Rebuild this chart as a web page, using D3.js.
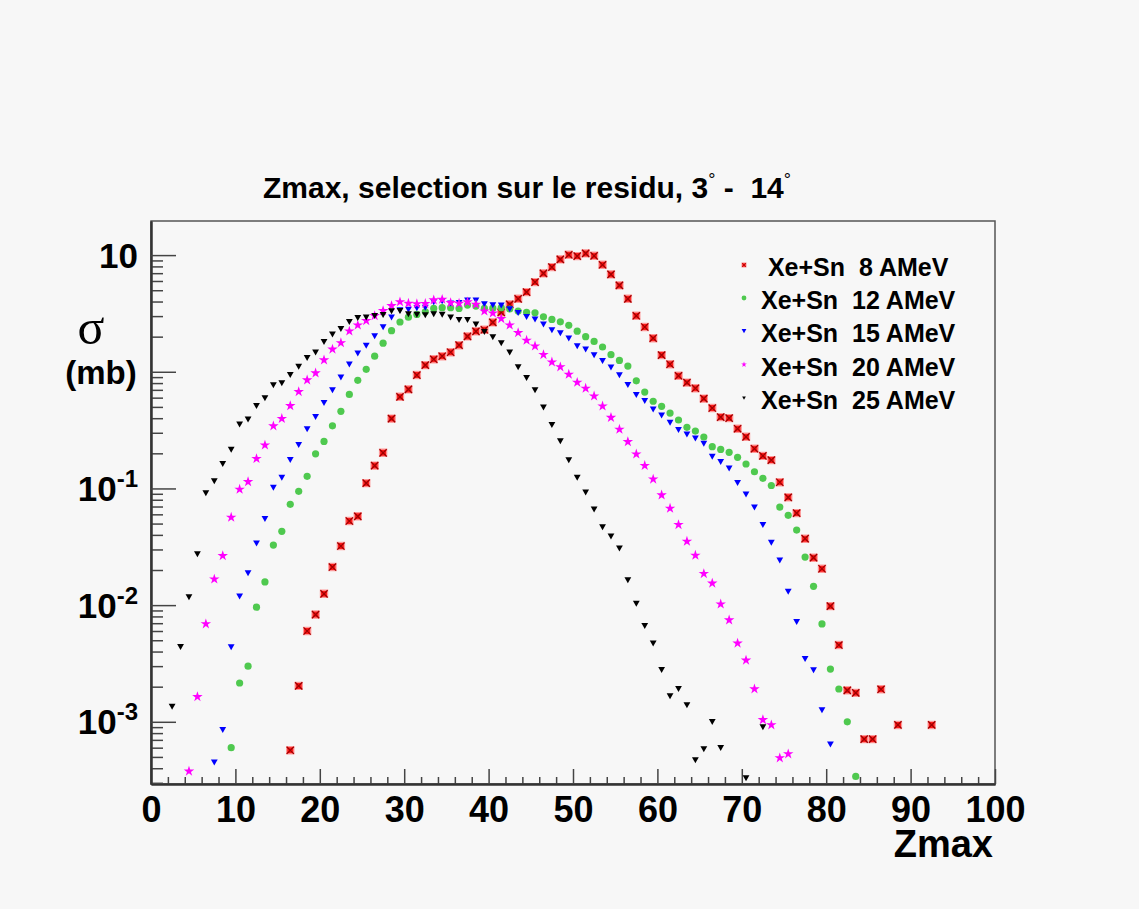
<!DOCTYPE html>
<html>
<head>
<meta charset="utf-8">
<script src="https://cdn.jsdelivr.net/npm/d3@7"></script>
<style>
  body { margin: 0; background: #f7f7f7; }
  text { font-family: "Liberation Sans", Arial, sans-serif; font-weight: bold; white-space: pre; }
</style>
</head>
<body>
<div class="chart"></div>
<script>
// bin (Zmax) , sigma (mb)
const xe8 = [[16,5.7e-4],[17,2.03e-3],[18,6.0e-3],[19,8.3e-3],[20,0.0125],[21,0.0212],[22,0.0321],[23,0.0526],[24,0.0577],[25,0.111],[26,0.157],[27,0.202],[28,0.397],[29,0.61],[30,0.706],[31,0.937],[32,1.14],[33,1.28],[34,1.36],[35,1.47],[36,1.69],[37,2.01],[38,2.22],[39,2.29],[40,2.65],[41,3.23],[42,3.78],[43,4.22],[44,4.82],[45,5.87],[46,6.97],[47,7.89],[48,9.19],[49,10.06],[50,9.8],[51,10.34],[52,9.86],[53,8.26],[54,6.83],[55,5.5],[56,4.22],[57,3.02],[58,2.42],[59,1.94],[60,1.39],[61,1.16],[62,0.924],[63,0.808],[64,0.722],[65,0.589],[66,0.489],[67,0.409],[68,0.401],[69,0.325],[70,0.277],[71,0.219],[72,0.19],[73,0.175],[74,0.113],[75,0.0839],[76,0.0615],[77,0.0371],[78,0.0255],[79,0.0205],[80,9.8e-3],[81,4.55e-3],[82,1.86e-3],[83,1.77e-3],[84,7.1e-4],[85,7.1e-4],[86,1.9e-3],[88,9.4e-4],[92,9.4e-4]];

const xe12 = [[9,6.0e-4],[10,2.15e-3],[11,3.0e-3],[12,9.6e-3],[13,0.0158],[14,0.0327],[15,0.0429],[16,0.0731],[17,0.0944],[18,0.127],[19,0.198],[20,0.253],[21,0.344],[22,0.458],[23,0.64],[24,0.844],[25,1.05],[26,1.36],[27,1.76],[28,2.25],[29,2.67],[30,2.94],[31,3.1],[32,3.27],[33,3.49],[34,3.54],[35,3.54],[36,3.49],[37,3.73],[38,3.66],[39,3.49],[40,3.51],[41,3.54],[42,3.45],[43,3.31],[44,3.23],[45,3.2],[46,2.96],[47,2.81],[48,2.68],[49,2.5],[50,2.23],[51,2.0],[52,1.82],[53,1.63],[54,1.4],[55,1.25],[56,1.12],[57,0.837],[58,0.67],[59,0.559],[60,0.506],[61,0.443],[62,0.386],[63,0.334],[64,0.31],[65,0.276],[66,0.228],[67,0.216],[68,0.204],[69,0.185],[70,0.162],[71,0.139],[72,0.122],[73,0.106],[74,0.0693],[75,0.0588],[76,0.044],[77,0.0258],[78,0.0145],[79,6.9e-3],[80,2.83e-3],[81,1.91e-3],[82,1.0e-3],[83,3.4e-4]];

const xe15 = [[7,4.5e-4],[8,8.55e-4],[9,4.37e-3],[10,0.0119],[11,0.0188],[12,0.0339],[13,0.055],[14,0.102],[15,0.124],[16,0.176],[17,0.237],[18,0.323],[19,0.411],[20,0.541],[21,0.697],[22,0.895],[23,1.16],[24,1.44],[25,1.68],[26,2.02],[27,2.42],[28,2.93],[29,3.38],[30,3.41],[31,3.51],[32,3.56],[33,3.96],[34,4.03],[35,3.86],[36,3.9],[37,4.09],[38,4.09],[39,3.8],[40,3.73],[41,3.71],[42,3.45],[43,3.2],[44,2.96],[45,2.81],[46,2.55],[47,2.28],[48,2.15],[49,1.94],[50,1.66],[51,1.56],[52,1.39],[53,1.24],[54,1.09],[55,0.937],[56,0.774],[57,0.635],[58,0.563],[59,0.477],[60,0.423],[61,0.368],[62,0.318],[63,0.291],[64,0.269],[65,0.242],[66,0.188],[67,0.169],[68,0.149],[69,0.112],[70,0.089],[71,0.0689],[72,0.0489],[73,0.0343],[74,0.0242],[75,0.0131],[76,7.2e-3],[77,3.47e-3],[78,2.78e-3],[79,1.26e-3],[80,6.4e-4]];

const xe20 = [[4,3.77e-4],[5,1.64e-3],[6,6.9e-3],[7,0.0167],[8,0.0265],[9,0.0565],[10,0.0982],[11,0.114],[12,0.18],[13,0.235],[14,0.343],[15,0.397],[16,0.511],[17,0.674],[18,0.849],[19,0.975],[20,1.26],[21,1.56],[22,1.77],[23,2.23],[24,2.51],[25,2.74],[26,3.02],[27,3.33],[28,3.68],[29,3.97],[30,3.86],[31,3.82],[32,3.84],[33,4.12],[34,4.17],[35,3.9],[36,3.86],[37,3.96],[38,3.78],[39,3.31],[40,3.18],[41,2.85],[42,2.51],[43,2.16],[44,1.86],[45,1.66],[46,1.4],[47,1.21],[48,1.1],[49,0.95],[50,0.811],[51,0.721],[52,0.619],[53,0.508],[54,0.405],[55,0.321],[56,0.251],[57,0.197],[58,0.157],[59,0.12],[60,0.0878],[61,0.0675],[62,0.0489],[63,0.0352],[64,0.0267],[65,0.0186],[66,0.0154],[67,0.0102],[68,7.45e-3],[69,4.71e-3],[70,3.37e-3],[71,1.91e-3],[72,1.04e-3],[73,9.4e-4],[74,4.9e-4],[75,5.3e-4]];

const xe25 = [[2,1.35e-3],[3,4.4e-3],[4,0.0117],[5,0.0274],[6,0.0913],[7,0.116],[8,0.163],[9,0.216],[10,0.354],[11,0.392],[12,0.51],[13,0.595],[14,0.769],[15,0.8],[16,0.943],[17,1.11],[18,1.32],[19,1.47],[20,1.81],[21,2.1],[22,2.34],[23,2.68],[24,2.9],[25,2.93],[26,3.02],[27,3.08],[28,3.31],[29,3.33],[30,3.12],[31,3.1],[32,3.07],[33,3.12],[34,3.09],[35,2.93],[36,2.79],[37,2.79],[38,2.55],[39,2.2],[40,1.98],[41,1.76],[42,1.47],[43,1.1],[44,0.889],[45,0.697],[46,0.495],[47,0.351],[48,0.255],[49,0.175],[50,0.124],[51,0.0926],[52,0.0662],[53,0.0467],[54,0.0389],[55,0.0307],[56,0.0164],[57,0.0103],[58,6.66e-3],[59,4.71e-3],[60,2.79e-3],[61,1.66e-3],[62,1.92e-3],[63,1.39e-3],[64,4.7e-4],[65,5.85e-4],[66,1.0e-3],[67,6.0e-4],[70,3.3e-4],[72,9.0e-4]];

const legendLabels = [" Xe+Sn  8 AMeV", "Xe+Sn  12 AMeV", "Xe+Sn  15 AMeV", "Xe+Sn  20 AMeV", "Xe+Sn  25 AMeV"];
const xTicks = [0, 10, 20, 30, 40, 50, 60, 70, 80, 90, 100];
const yTicks = [1e-3, 1e-2, 1e-1, 1, 10];
const yTickLabels = [["10", "-3"], ["10", "-2"], ["10", "-1"], ["", ""], ["10", ""]];

const W = 1139, H = 909;
const frame = { left: 151, right: 995, top: 221, bottom: 784 };

var svg = d3.select(".chart").append("svg")
  .attr("width", W)
  .attr("height", H);

svg.append("rect").attr("width", W).attr("height", H).attr("fill", "#f7f7f7");

var x = d3.scaleLinear().domain([0, 100]).range([frame.left, frame.right]);
var y = d3.scaleLog().domain([2.93e-4, 19.6]).range([frame.bottom, frame.top]);

// frame
svg.append("rect")
  .attr("x", frame.left).attr("y", frame.top)
  .attr("width", frame.right - frame.left).attr("height", frame.bottom - frame.top)
  .attr("fill", "none").attr("stroke", "#555").attr("stroke-width", 1.5);

// x axis: major + minor ticks pointing inwards
var minorX = d3.range(0, 101, 2).filter(d => d % 10 != 0);
svg.append("g")
  .attr("transform", `translate(0,${frame.bottom})`)
  .call(d3.axisBottom(x).tickValues(minorX).tickSizeInner(-7).tickSizeOuter(0).tickFormat(""));
var gx = svg.append("g")
  .attr("transform", `translate(0,${frame.bottom})`)
  .call(d3.axisBottom(x).tickValues(xTicks).tickSizeInner(-15).tickSizeOuter(0).tickPadding(12));
gx.selectAll("text").style("font-size", "36px").attr("fill", "#000");

// y axis
var minorY = [];
[1e-4, 1e-3, 1e-2, 1e-1, 1, 10].forEach(dec => {
  for (let k = 2; k <= 9; k++) {
    let v = dec * k;
    if (v >= y.domain()[0] && v <= y.domain()[1]) minorY.push(v);
  }
});
svg.append("g")
  .attr("transform", `translate(${frame.left},0)`)
  .call(d3.axisLeft(y).tickValues(minorY).tickSizeInner(-12).tickSizeOuter(0).tickFormat(""));
var gy = svg.append("g")
  .attr("transform", `translate(${frame.left},0)`)
  .call(d3.axisLeft(y).tickValues(yTicks).tickSizeInner(-25).tickSizeOuter(0).tickPadding(13).tickFormat(""));
gy.selectAll(".tick text").each(function (d, i) {
  var t = d3.select(this).attr("dy", null).attr("dominant-baseline", null)
    .attr("y", 12).style("font-size", "35px").attr("fill", "#000");
  t.append("tspan").text(yTickLabels[i][0]);
  t.append("tspan").attr("dy", -14).style("font-size", "24px").text(yTickLabels[i][1]);
});

svg.selectAll(".domain").attr("stroke", "#333").attr("stroke-width", 2);
svg.selectAll(".tick line").attr("stroke", "#444").attr("stroke-width", 1.5);

// markers
var redSquare = "M-3,-3 L3,-3 L3,3 L-3,3 Z";
var redX = "M-3,-3 L3,3 M3,-3 L-3,3";
var downTri = "M-3.4,-2.8 L3.4,-2.8 L0,3.2 Z";
var star = d3.symbol().type(d3.symbolStar).size(34)();
var smallStar = d3.symbol().type(d3.symbolStar).size(10)();

function drawRed(g, data, s) {
  var m = g.selectAll(null).data(data).enter().append("g")
    .attr("transform", d => `translate(${x(d[0] + 0.5)},${y(d[1])}) scale(${s})`);
  m.append("path").attr("d", redSquare).attr("fill", "#ff1a1a").attr("stroke", "#ff9a9a").attr("stroke-width", 1);
  m.append("path").attr("d", redX).attr("stroke", "#a00000").attr("stroke-width", 1.1);
}

var plot = svg.append("g");
drawRed(plot, xe8, 1.2);

plot.selectAll(null).data(xe12).enter().append("circle")
  .attr("cx", d => x(d[0] + 0.5)).attr("cy", d => y(d[1]))
  .attr("r", 3.6).attr("fill", "#4fc94f");

plot.selectAll(null).data(xe15).enter().append("path")
  .attr("transform", d => `translate(${x(d[0] + 0.5)},${y(d[1])})`)
  .attr("d", downTri).attr("fill", "#0000ff");

plot.selectAll(null).data(xe20).enter().append("path")
  .attr("transform", d => `translate(${x(d[0] + 0.5)},${y(d[1])})`)
  .attr("d", star).attr("fill", "#ff00ff");

plot.selectAll(null).data(xe25).enter().append("path")
  .attr("transform", d => `translate(${x(d[0] + 0.5)},${y(d[1])})`)
  .attr("d", downTri).attr("fill", "#000");

// legend
var rowY = [267, 300, 333, 366.5, 400];
var lg = svg.append("g");
legendLabels.forEach((lab, i) => {
  var ty = rowY[i];
  var mk = lg.append("g").attr("transform", `translate(744,${ty - 2})`);
  if (i == 0) {
    mk.append("path").attr("d", redSquare).attr("transform", "scale(0.7)").attr("fill", "#ff1a1a").attr("stroke", "#ff9a9a");
    mk.append("path").attr("d", redX).attr("transform", "scale(0.7)").attr("stroke", "#a00000");
  } else if (i == 1) {
    mk.append("circle").attr("r", 2.4).attr("fill", "#4fc94f");
  } else if (i == 2) {
    mk.append("path").attr("d", downTri).attr("transform", "scale(0.7)").attr("fill", "#0000ff");
  } else if (i == 3) {
    mk.append("path").attr("d", smallStar).attr("fill", "#ff00ff");
  } else {
    mk.append("path").attr("d", downTri).attr("transform", "scale(0.55)").attr("fill", "#000");
  }
  lg.append("text")
    .attr("x", 761).attr("y", ty + 9)
    .style("font-size", "25px")
    .text(lab);
});

// title
var title = svg.append("text").attr("x", 263).attr("y", 198).style("font-size", "30px");
title.append("tspan").text("Zmax, selection sur le residu, 3");
title.append("tspan").attr("dy", -12).style("font-size", "18px").style("font-weight", "normal").text("°");
title.append("tspan").attr("dy", 12).text(" -  14");
title.append("tspan").attr("dy", -12).style("font-size", "18px").style("font-weight", "normal").text("°");

// axis titles
svg.append("text")
  .attr("x", 993).attr("y", 857)
  .attr("text-anchor", "end")
  .style("font-size", "38px")
  .text("Zmax");

svg.append("text")
  .attr("x", 91).attr("y", 344)
  .attr("text-anchor", "middle")
  .style("font-family", "'Liberation Serif', 'DejaVu Serif', serif")
  .style("font-weight", "normal")
  .style("font-size", "50px")
  .text("σ");

svg.append("text")
  .attr("x", 101).attr("y", 384)
  .attr("text-anchor", "middle")
  .style("font-size", "33px")
  .text("(mb)");
</script>
</body>
</html>
